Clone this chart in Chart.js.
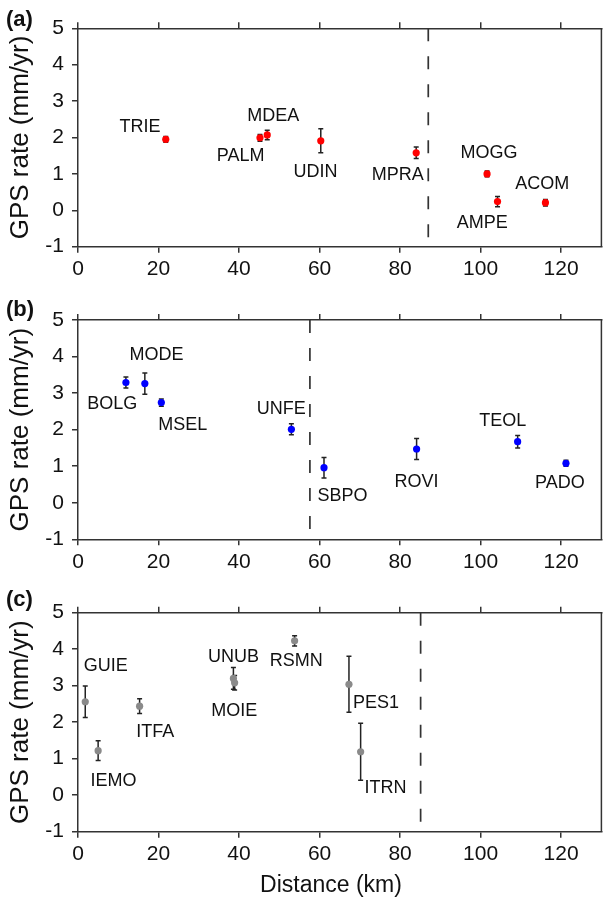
<!DOCTYPE html>
<html>
<head>
<meta charset="utf-8">
<script src="https://cdn.jsdelivr.net/npm/chart.js@4.4.1/dist/chart.umd.min.js"></script>
<style>
  html, body { margin: 0; padding: 0; background: #fff; }
  body { width: 605px; height: 902px; position: relative; overflow: hidden; }
  canvas { position: absolute; left: 0; }
</style>
</head>
<body>
<canvas id="pa" width="605" height="290" style="top:0px"></canvas>
<canvas id="pb" width="605" height="290" style="top:290px"></canvas>
<canvas id="pc" width="605" height="322" style="top:580px"></canvas>
<script>
// shared axes
const xTicks = [0, 20, 40, 60, 80, 100, 120];
const yTicks = [-1, 0, 1, 2, 3, 4, 5];

// (a) red stations
const namesA = ["TRIE", "PALM", "MDEA", "UDIN", "MPRA", "MOGG", "AMPE", "ACOM"];
const distA = [21.8, 45.2, 47.0, 60.3, 84.0, 101.6, 104.2, 116.1];
const rateA = [1.95, 1.99, 2.07, 1.91, 1.58, 1.00, 0.24, 0.21];
const errA = [0.08, 0.09, 0.13, 0.33, 0.16, 0.08, 0.14, 0.09];
const labXA = [15.4, 40.4, 48.5, 59.0, 79.4, 102.1, 100.4, 115.3];
const labYA = [2.30, 1.49, 2.59, 1.06, 0.97, 1.58, -0.34, 0.71];
const boundA = 87.0;

// (b) blue stations
const namesB = ["BOLG", "MODE", "MSEL", "UNFE", "SBPO", "ROVI", "TEOL", "PADO"];
const distB = [11.9, 16.6, 20.7, 53.0, 61.1, 84.1, 109.2, 121.2];
const rateB = [3.29, 3.26, 2.74, 2.01, 0.96, 1.47, 1.67, 1.08];
const errB = [0.15, 0.29, 0.10, 0.15, 0.28, 0.29, 0.17, 0.08];
const labXB = [8.5, 19.5, 26.0, 50.5, 65.7, 84.1, 105.5, 119.7];
const labYB = [2.69, 4.04, 2.12, 2.56, 0.19, 0.56, 2.23, 0.53];
const boundB = 57.6;

// (c) grey stations
const namesC = ["GUIE", "IEMO", "ITFA", "UNUB", "MOIE", "RSMN", "PES1", "ITRN"];
const distC = [1.8, 5.0, 15.3, 38.6, 38.9, 53.8, 67.3, 70.2];
const rateC = [2.56, 1.22, 2.44, 3.20, 3.08, 4.23, 3.04, 1.19];
const errC = [0.43, 0.27, 0.20, 0.30, 0.20, 0.14, 0.77, 0.78];
const labXC = [6.9, 8.8, 19.2, 38.6, 38.8, 54.2, 74.0, 76.4];
const labYC = [3.54, 0.40, 1.74, 3.79, 2.31, 3.67, 2.52, 0.19];
const boundC = 85.1;

Chart.defaults.font.family = '"Liberation Sans", Arial, Helvetica, sans-serif';
Chart.defaults.color = "#111";

const AX = "#333";

// error bars, boundary line, station names, panel tag
const extras = {
  id: "extras",
  beforeDatasetsDraw(chart) {
    const o = chart.options.plugins.extras;
    const x = chart.scales.x, y = chart.scales.y, ctx = chart.ctx, a = chart.chartArea;
    ctx.save();
    // dashed boundary
    ctx.strokeStyle = AX;
    ctx.lineWidth = 1.7;
    ctx.setLineDash([13, 15]);
    const bx = x.getPixelForValue(o.bound);
    ctx.beginPath(); ctx.moveTo(bx, a.top); ctx.lineTo(bx, a.bottom); ctx.stroke();
    ctx.setLineDash([]);
    // error bars
    ctx.strokeStyle = "#222";
    ctx.lineWidth = 1.5;
    o.dist.forEach((d, i) => {
      const px = x.getPixelForValue(d);
      const y1 = y.getPixelForValue(o.rate[i] + o.err[i]);
      const y2 = y.getPixelForValue(o.rate[i] - o.err[i]);
      ctx.beginPath();
      ctx.moveTo(px, y1); ctx.lineTo(px, y2);
      ctx.moveTo(px - 2.5, y1); ctx.lineTo(px + 2.5, y1);
      ctx.moveTo(px - 2.5, y2); ctx.lineTo(px + 2.5, y2);
      ctx.stroke();
    });
    ctx.restore();
  },
  afterDraw(chart) {
    const o = chart.options.plugins.extras;
    const x = chart.scales.x, y = chart.scales.y, ctx = chart.ctx, a = chart.chartArea;
    ctx.save();
    // right frame line
    ctx.strokeStyle = AX; ctx.lineWidth = 1.5;
    ctx.beginPath(); ctx.moveTo(a.right, a.top); ctx.lineTo(a.right, a.bottom); ctx.stroke();
    ctx.fillStyle = "#111";
    ctx.textAlign = "center";
    ctx.textBaseline = "middle";
    ctx.font = '18px "Liberation Sans", Arial, sans-serif';
    o.names.forEach((n, i) => {
      ctx.fillText(n, x.getPixelForValue(o.labX[i]), y.getPixelForValue(o.labY[i]));
    });
    ctx.textAlign = "left";
    ctx.font = 'bold 22px "Liberation Sans", Arial, sans-serif';
    ctx.fillText(o.tag, 6, 20);
    if (o.xTitle) {
      ctx.textAlign = "center";
      ctx.font = '23px "Liberation Sans", Arial, sans-serif';
      ctx.fillText(o.xTitle, 331, chart.height - 16);
    }
    ctx.restore();
  }
};

function makePanel(id, tag, color, names, dist, rate, err, labX, labY, bound, plotTop, plotBottom, xTitle) {
  const cv = document.getElementById(id);
  const H = cv.height;
  const grid = { display: true, drawOnChartArea: false, drawTicks: true, tickLength: 6, color: AX, lineWidth: 1.5 };
  const border = { display: true, color: AX, width: 1.5 };
  return new Chart(cv, {
    type: "scatter",
    data: {
      datasets: [{
        data: dist.map((d, i) => ({ x: d, y: rate[i] })),
        backgroundColor: color,
        borderColor: color,
        borderWidth: 0,
        pointRadius: 3.6,
        pointHoverRadius: 3.6
      }]
    },
    options: {
      responsive: false,
      animation: false,
      events: [],
      layout: { padding: { left: 0, right: 1, top: 0, bottom: 0 } },
      plugins: {
        legend: { display: false },
        tooltip: { enabled: false },
        extras: { tag, names, dist, rate, err, labX, labY, bound, xTitle }
      },
      scales: {
        x: {
          type: "linear", position: "bottom", min: 0, max: 130,
          afterBuildTicks: s => { s.ticks = xTicks.map(v => ({ value: v })); },
          afterFit: s => { s.height = H - plotBottom; },
          ticks: { font: { size: 21 }, padding: 4, maxRotation: 0, color: "#111" },
          grid, border
        },
        xTop: {
          type: "linear", position: "top", min: 0, max: 130,
          afterBuildTicks: s => { s.ticks = xTicks.map(v => ({ value: v })); },
          afterFit: s => { s.height = plotTop; },
          ticks: { display: false },
          grid, border
        },
        y: {
          type: "linear", position: "left", min: -1, max: 5,
          afterBuildTicks: s => { s.ticks = yTicks.map(v => ({ value: v })); },
          afterFit: s => { s.width = 78; },
          ticks: { font: { size: 21 }, padding: 8, color: "#111" },
          title: { display: true, text: "GPS rate (mm/yr)", font: { size: 26 }, color: "#111", padding: { top: 5, bottom: 0 } },
          grid, border
        }
      }
    },
    plugins: [extras]
  });
}

makePanel("pa", "(a)", "#ff0000", namesA, distA, rateA, errA, labXA, labYA, boundA, 28.3, 246.7, null);
makePanel("pb", "(b)", "#0000ff", namesB, distB, rateB, errB, labXB, labYB, boundB, 30, 249.3, null);
makePanel("pc", "(c)", "#8a8a8a", namesC, distC, rateC, errC, labXC, labYC, boundC, 32.7, 251.7, "Distance (km)");
</script>
</body>
</html>
